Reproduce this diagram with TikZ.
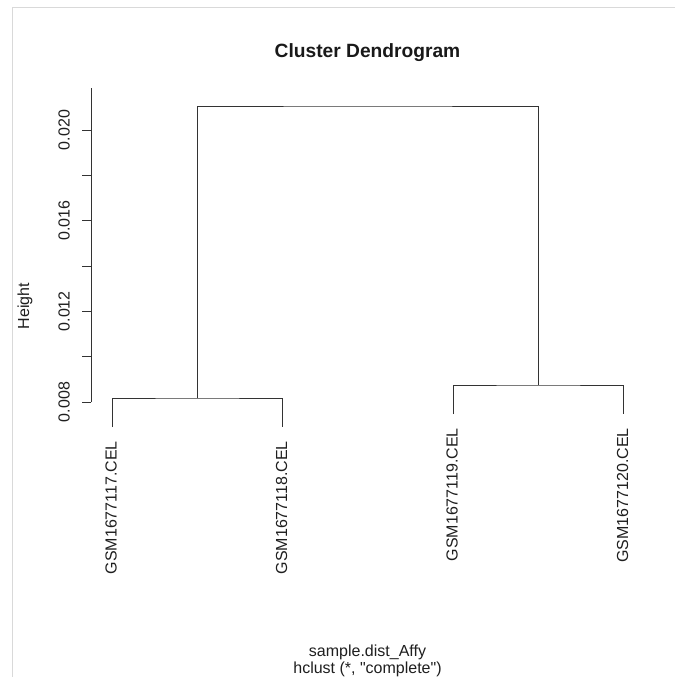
\documentclass[tikz,border=0pt]{standalone}
\usepackage{fontspec}
\setmainfont{Liberation Sans}
\newfontfamily\rfont{Liberation Sans}
\begin{document}
\begin{tikzpicture}[x=1pt,y=-1pt,
  lab/.style={font=\rfont\fontsize{16}{18}\selectfont, inner sep=0pt, text=black!88},
  tree/.style={line width=1pt, draw=black!80},
  axisline/.style={line width=1pt, draw=black!80}]
\useasboundingbox (0,0) rectangle (675,677);
\fill[white] (0,0) rectangle (675,677);
\draw[black!15, line width=1pt] (12,677) -- (12,8) -- (675,8);
% title
\node[font=\rfont\bfseries\fontsize{19.2}{22}\selectfont, anchor=base, inner sep=0pt, text=black!90] (title) at (367.5,58) {Cluster Dendrogram};
% y axis
\coordinate (ybot) at (91,402);
\coordinate (ytop) at (91,88);
\draw[axisline] (ybot) -- (ytop);
\foreach \v/\y in {008/402,010/356.7,012/311.3,014/266,016/220.7,018/175.3,020/130}{
  \coordinate (t\v) at (91,\y);
  \coordinate (tl\v) at (82,\y);
  \draw[axisline] (t\v) -- (tl\v);
}
\foreach \v/\y in {008/402,012/311.3,016/220.7,020/130}{
  \node[lab, rotate=90] (n\v) at (64,\y) {0.\v};
}
\node[lab, rotate=90] (ylab) at (25,306) {Height};
% tree
\coordinate (l1) at (112,427);
\coordinate (l2) at (282.5,427);
\coordinate (l3) at (453,414);
\coordinate (l4) at (623.5,414);
\coordinate (m1) at (197.25,398);
\coordinate (m2) at (538.25,385);
\coordinate (top) at (367.75,106);
\draw[tree] (l1) |- (m1) -| (l2);
\draw[tree] (l3) |- (m2) -| (l4);
\draw[tree] (m1) |- (top) -| (m2);
% leaf labels
\node[lab, rotate=90, anchor=east] (g1) at (111,441) {GSM1677117.CEL};
\node[lab, rotate=90, anchor=east] (g2) at (281.5,441) {GSM1677118.CEL};
\node[lab, rotate=90, anchor=east] (g3) at (452,428) {GSM1677119.CEL};
\node[lab, rotate=90, anchor=east] (g4) at (622.5,428) {GSM1677120.CEL};
% x label
\node[lab, anchor=base] (xl1) at (367.5,656) {sample.dist\_Affy};
\node[lab, anchor=base] (xl2) at (367.5,673) {hclust (*, "complete")};
\end{tikzpicture}
\end{document}
